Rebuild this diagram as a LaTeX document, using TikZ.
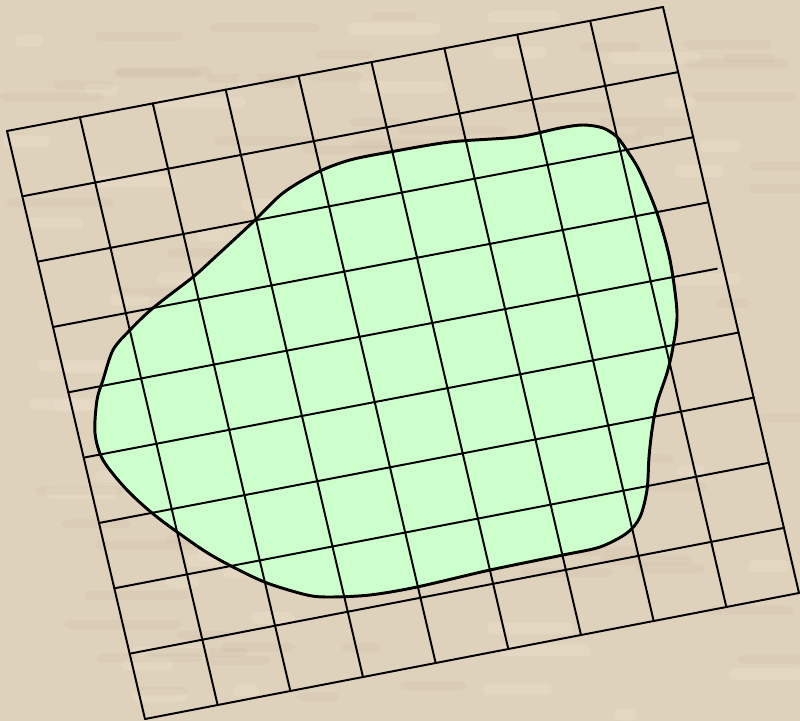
\documentclass[tikz,border=0pt]{standalone}
\usetikzlibrary{calc}
\definecolor{paper}{RGB}{223,210,188}
\definecolor{paperdark}{RGB}{185,170,144}
\definecolor{paperlight}{RGB}{238,228,210}
\definecolor{blobgreen}{RGB}{204,255,204}
\tikzset{
  gridline/.style={line width=1.4pt, line cap=round},
  blobline/.style={line width=2.1pt},
  streak/.style={fill=paperdark, opacity=0.13, rounded corners=4pt},
  glow/.style={fill=paperlight, opacity=0.30, rounded corners=4pt},
}
\begin{document}
\begin{tikzpicture}[x=0.025cm, y=-0.025cm]
\fill[paper] (0,0) rectangle (800,721);
\useasboundingbox (0,0) rectangle (800,721);
\pgfmathsetseed{7}
\foreach \k in {1,...,60}{
  \pgfmathsetmacro{\sx}{rnd*760}
  \pgfmathsetmacro{\sy}{rnd*710}
  \pgfmathsetmacro{\sw}{20+rnd*80}
  \fill[glow] (\sx,\sy) rectangle ++(\sw,12);
}
\foreach \k in {1,...,80}{
  \pgfmathsetmacro{\sx}{rnd*760}
  \pgfmathsetmacro{\sy}{rnd*710}
  \pgfmathsetmacro{\sw}{30+rnd*90}
  \fill[streak] (\sx,\sy) rectangle ++(\sw,9);
}
\coordinate (tl) at (7,131);
\coordinate (tr) at (663,7);
\coordinate (bl) at (145,719);
\coordinate (br) at (799,593);
\fill[blobgreen] plot[smooth cycle] coordinates {
  (212,260) (253,222) (283,193) (318,172) (350,160) (390,152) (450,142)
  (517,137) (560,128) (583,125) (603,128) (617,137) (628,152) (640,172)
  (657,213) (670,260) (677,313) (673,347) (667,373) (657,403) (652,430)
  (649,457) (647,490) (640,517) (627,533) (600,547) (563,555) (490,570)
  (417,587) (370,595) (330,597) (307,595) (267,583) (233,567) (203,550)
  (157,517) (127,490) (103,460) (95,433) (97,400) (103,380) (113,350)
  (130,330) (153,308) (193,277)};
\foreach \i in {0,...,9}{
  \draw[gridline] ($(tl)!\i/9!(tr)$) -- ($(bl)!\i/9!(br)$);
}
\foreach \j in {0,1,2,3,5,6,7,8,9}{
  \draw[gridline] ($(tl)!\j/9!(bl)$) -- ($(tr)!\j/9!(br)$);
}
\draw[gridline] ($(tl)!4/9!(bl)$) -- ($($(tl)!4/9!(bl)$)!0.99!($(tr)!4/9!(br)$)$);
\draw[blobline] plot[smooth cycle] coordinates {
  (212,260) (253,222) (283,193) (318,172) (350,160) (390,152) (450,142)
  (517,137) (560,128) (583,125) (603,128) (617,137) (628,152) (640,172)
  (657,213) (670,260) (677,313) (673,347) (667,373) (657,403) (652,430)
  (649,457) (647,490) (640,517) (627,533) (600,547) (563,555) (490,570)
  (417,587) (370,595) (330,597) (307,595) (267,583) (233,567) (203,550)
  (157,517) (127,490) (103,460) (95,433) (97,400) (103,380) (113,350)
  (130,330) (153,308) (193,277)};
\end{tikzpicture}
\end{document}
